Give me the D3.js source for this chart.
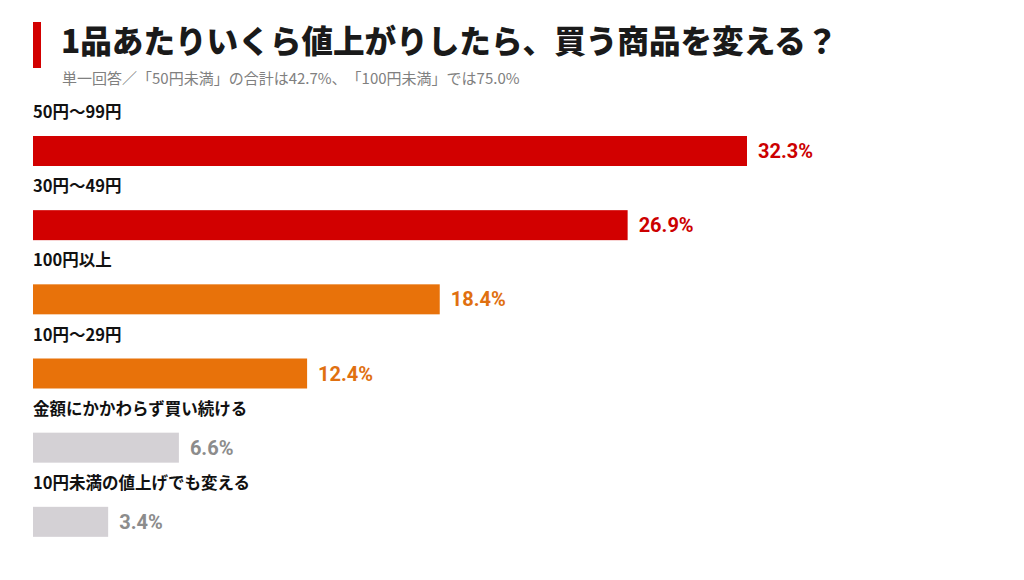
<!DOCTYPE html>
<meta charset="utf-8">
<script src="https://d3js.org/d3.v7.min.js"></script>
<style>
  body { margin: 0; background: #fff; }
  text { font-family: "Noto Sans CJK JP", "Noto Sans", sans-serif; }
</style>
<svg id="vis"></svg>
<script>
    var width = 1024, height = 580;

    // Data
    let categories = ['50円～99円', '30円～49円', '100円以上', '10円～29円', '金額にかかわらず買い続ける', '10円未満の値上げでも変える']
    let values = [32.3, 26.9, 18.4, 12.4, 6.6, 3.4]
    let groups = ['red', 'red', 'orange', 'orange', 'gray', 'gray']

    let barFill = {red: '#d20000', orange: '#e8720a', gray: '#d4d1d5'}
    let textFill = {red: '#cc0000', orange: '#e07010', gray: '#8c8c8c'}

    let svg = d3.select('#vis')
        .attr('width', width)
        .attr('height', height)

    // Title block
    svg.append('rect')
        .attr('x', 33).attr('y', 22)
        .attr('width', 8).attr('height', 46)
        .attr('fill', '#d20000')

    svg.append('text')
        .attr('x', 61).attr('y', 53)
        .attr('font-size', 31.6)
        .attr('font-weight', 900)
        .attr('fill', '#1a1a1a')
        .text('1品あたりいくら値上がりしたら、買う商品を変える？')

    svg.append('text')
        .attr('x', 62).attr('y', 84)
        .attr('font-size', 15)
        .attr('fill', '#808080')
        .text('単一回答／「50円未満」の合計は42.7%、　「100円未満」では75.0%')

    // Scales
    var x = d3.scaleLinear()
        .domain([0, 32.3])
        .range([33, 747]);

    var y = d3.scaleBand()
        .domain(categories)
        .range([99, 544])
        .paddingInner(0)

    let barH = 30

    let row = svg.append('g')
        .selectAll('g')
        .data(categories)
        .enter()
        .append('g')
        .attr('transform', function (d) { return 'translate(0,' + y(d) + ')' })

    // Category label
    row.append('text')
        .attr('x', 33)
        .attr('y', 19)
        .attr('font-size', 16.5)
        .attr('font-weight', 700)
        .attr('fill', '#111')
        .text(function (d) { return d })

    // Bar
    row.append('rect')
        .attr('x', x(0))
        .attr('y', 37)
        .attr('width', function (d, i) { return x(values[i]) - x(0) })
        .attr('height', barH)
        .attr('fill', function (d, i) { return barFill[groups[i]] })

    // Value label
    row.append('text')
        .attr('x', function (d, i) { return x(values[i]) + 11 })
        .attr('y', 37 + barH / 2)
        .attr('dy', '0.35em')
        .attr('font-size', 20)
        .attr('font-weight', 700)
        .attr('fill', function (d, i) { return textFill[groups[i]] })
        .style('font-family', 'Roboto, "Noto Sans", sans-serif')
        .text(function (d, i) { return values[i].toFixed(1) + '%' })
</script>
